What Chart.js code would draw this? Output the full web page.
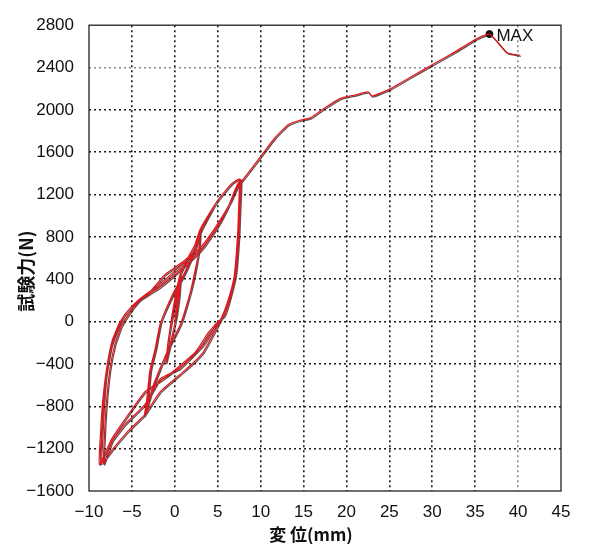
<!DOCTYPE html>
<html>
<head>
<meta charset="utf-8">
<script src="https://cdn.jsdelivr.net/npm/chart.js@4.4.1/dist/chart.umd.min.js"></script>
<style>
  html, body { margin: 0; background: #fff; }
  #wrap { width: 590px; height: 544px; }
</style>
</head>
<body>
<div id="wrap"><canvas id="chart"></canvas></div>
<script>
// displacement (mm), load (N) pairs in test order
const smallLoops = [
  [0, 0], [0.3, 220], [0.6, 430],
  [0.5, 250], [0.2, 60], [-0.3, -130], [-0.7, -260], [-1.0, -380],
  [-0.8, -200], [-0.4, 0], [0.2, 240], [0.65, 440],
  [0.5, 240], [0.1, 20], [-0.4, -170], [-1.05, -390]
];

const midLoops = [
  [-0.7, -150], [-0.2, 120], [0.6, 440], [1.5, 600], [2.3, 720], [2.9, 860],
  [2.75, 640], [2.2, 420], [1.77, 266], [0.6, -40], [-0.56, -226], [-1.6, -420], [-2.5, -600], [-3.5, -880],
  [-3.2, -780], [-2.8, -450], [-2.2, -250], [-1.6, 0], [-0.2, 266], [1.0, 440], [1.8, 580], [2.5, 720], [2.95, 870],
  [2.85, 700], [2.4, 480], [1.9, 300], [0.8, 0], [-0.4, -200], [-1.5, -400], [-2.6, -640], [-3.55, -890],
  [-3.3, -760], [-2.9, -460], [-2.3, -260], [-1.7, -20], [-0.3, 240], [1.0, 430], [1.9, 590], [2.6, 740], [3.0, 880]
];

const largeLoops = [
  [4.88, 1132], [6.63, 1303], [7.6, 1345],
  // unload 1
  [7.55, 1150], [7.4, 850], [7.0, 450], [6.4, 250], [5.6, 60], [4.6, -100], [3.3, -290], [2.0, -400],
  [0.6, -500], [-1.7, -662], [-3.5, -878], [-5.4, -1030], [-7.0, -1180], [-8.6, -1340],
  // reload 1
  [-8.5, -1100], [-8.35, -850], [-8.0, -500], [-7.4, -230], [-6.6, -60], [-5.8, 70], [-4.6, 170],
  [-2.7, 300], [-1.2, 440], [0.0, 510], [1.0, 570], [2.2, 660], [3.0, 850], [4.88, 1132], [6.63, 1303], [7.5, 1345],
  // unload 2
  [7.45, 1100], [7.3, 800], [6.9, 420], [6.2, 200], [5.3, 10], [4.9, -20], [3.3, -220], [0.6, -440],
  [-1.7, -540], [-3.5, -785], [-5.8, -970], [-7.3, -1130], [-8.3, -1345],
  // reload 2
  [-8.2, -1080], [-8.0, -800], [-7.6, -470], [-7.0, -220], [-6.2, -40], [-5.2, 90], [-4.06, 204],
  [-1.73, 328], [0.99, 514], [3.3, 700], [5.0, 900], [6.3, 1100], [7.2, 1280], [7.7, 1340],
  // unload 3
  [7.6, 1100], [7.45, 800], [7.1, 450], [6.5, 240], [5.8, 60], [4.9, -12], [3.9, -105], [2.35, -290],
  [-0.76, -507], [-3.47, -662], [-5.42, -878], [-7.3, -1100], [-8.8, -1350],
  // reload 3
  [-8.65, -1050], [-8.4, -750], [-7.9, -420], [-7.3, -180], [-6.5, -20], [-5.5, 100], [-4.0, 220],
  [-1.7, 360], [1.0, 550], [3.3, 730], [5.2, 950], [6.5, 1130], [7.4, 1290], [7.98, 1345]
];

const skeleton = [
  [10.1, 1570], [11.6, 1730], [13.2, 1860], [14.5, 1900], [15.8, 1925], [17.5, 2020], [19.25, 2107],
  [21.0, 2140], [22.55, 2169], [22.95, 2129], [25.1, 2199], [27.5, 2310], [30.1, 2431], [32.7, 2550],
  [35.2, 2673], [36.66, 2716], [37.5, 2648], [38.7, 2540], [40.2, 2515]
];

const maxPoint = [[36.66, 2716]];

const xTicks = [-10, -5, 0, 5, 10, 15, 20, 25, 30, 35, 40, 45];
const yTicks = [-1600, -1200, -800, -400, 0, 400, 800, 1200, 1600, 2000, 2400, 2800];
const xTitle = '変 位(mm)';
const yTitle = '試験力(N)';

const toXY = p => ({ x: p[0], y: p[1] });
const curve = [...smallLoops, ...midLoops, ...largeLoops, ...skeleton].map(toXY);

const tickFont = { family: "'Liberation Sans', Arial", size: 17 };
const minus = v => String(v).replace('-', '\u2212');

function gridColor(lo, hi, light) {
  return ctx => {
    const v = ctx.tick && ctx.tick.value;
    if (v === lo || v === hi) return 'rgba(0,0,0,0)';
    return v === light ? '#8a8a8a' : '#1a1a1a';
  };
}

const decor = {
  id: 'decor',
  beforeDatasetDraw(chart, args) {
    if (args.index !== 0) return;
    const c = chart.ctx;
    c.save();
    c.shadowColor = 'rgba(40,0,0,0.7)';
    c.shadowOffsetX = 1;
    c.shadowOffsetY = 1;
    c.shadowBlur = 0;
  },
  afterDatasetDraw(chart, args) {
    if (args.index === 0) chart.ctx.restore();
  },
  afterDraw(chart) {
    const { ctx, chartArea: a, scales } = chart;
    ctx.save();
    ctx.strokeStyle = '#222';
    ctx.lineWidth = 1.3;
    ctx.strokeRect(a.left, a.top, a.right - a.left, a.bottom - a.top);

    const mx = scales.x.getPixelForValue(maxPoint[0][0]);
    const my = scales.y.getPixelForValue(maxPoint[0][1]);
    ctx.fillStyle = '#111';
    ctx.font = "17px 'Liberation Sans'";
    ctx.textBaseline = 'middle';
    ctx.textAlign = 'left';
    ctx.fillText('MAX', mx + 7, my + 2);

    ctx.font = "bold 17px 'Noto Sans CJK JP'";
    ctx.textAlign = 'center';
    ctx.fillText(xTitle, (a.left + a.right) / 2 - 14, a.bottom + 44);
    ctx.font = "bold 18px 'Noto Sans CJK JP'";
    ctx.translate(26, (a.top + a.bottom) / 2 + 13);
    ctx.rotate(-Math.PI / 2);
    ctx.fillText(yTitle, 0, 0);
    ctx.restore();
  }
};

new Chart(document.getElementById('chart'), {
  type: 'scatter',
  data: {
    datasets: [
      {
        data: curve,
        showLine: true,
        borderColor: '#e3151d',
        borderWidth: 1.25,
        pointRadius: 0,
        tension: 0.15
      },
      {
        data: maxPoint.map(toXY),
        pointRadius: 3.5,
        backgroundColor: '#111',
        borderColor: '#111'
      }
    ]
  },
  options: {
    responsive: true,
    maintainAspectRatio: false,
    animation: false,
    layout: { padding: { top: 17, right: 29, left: 0, bottom: 0 } },
    plugins: { legend: { display: false }, tooltip: { enabled: false } },
    scales: {
      x: {
        type: 'linear',
        min: -10,
        max: 45,
        afterBuildTicks: s => { s.ticks = xTicks.map(v => ({ value: v })); },
        afterFit: s => { s.height = 53; },
        grid: { color: gridColor(-10, 45, 40), lineWidth: 1.6, drawTicks: false },
        border: { display: false, dash: [2, 3] },
        ticks: { font: tickFont, color: '#111', padding: 11, maxRotation: 0, callback: minus }
      },
      y: {
        type: 'linear',
        min: -1600,
        max: 2800,
        afterBuildTicks: s => { s.ticks = yTicks.map(v => ({ value: v })); },
        afterFit: s => { s.width = 89; },
        grid: { color: gridColor(-1600, 2800, 2400), lineWidth: 1.6, drawTicks: false },
        border: { display: false, dash: [2, 3] },
        ticks: { font: tickFont, color: '#111', padding: 15, callback: minus }
      }
    }
  },
  plugins: [decor]
});
</script>
</body>
</html>
